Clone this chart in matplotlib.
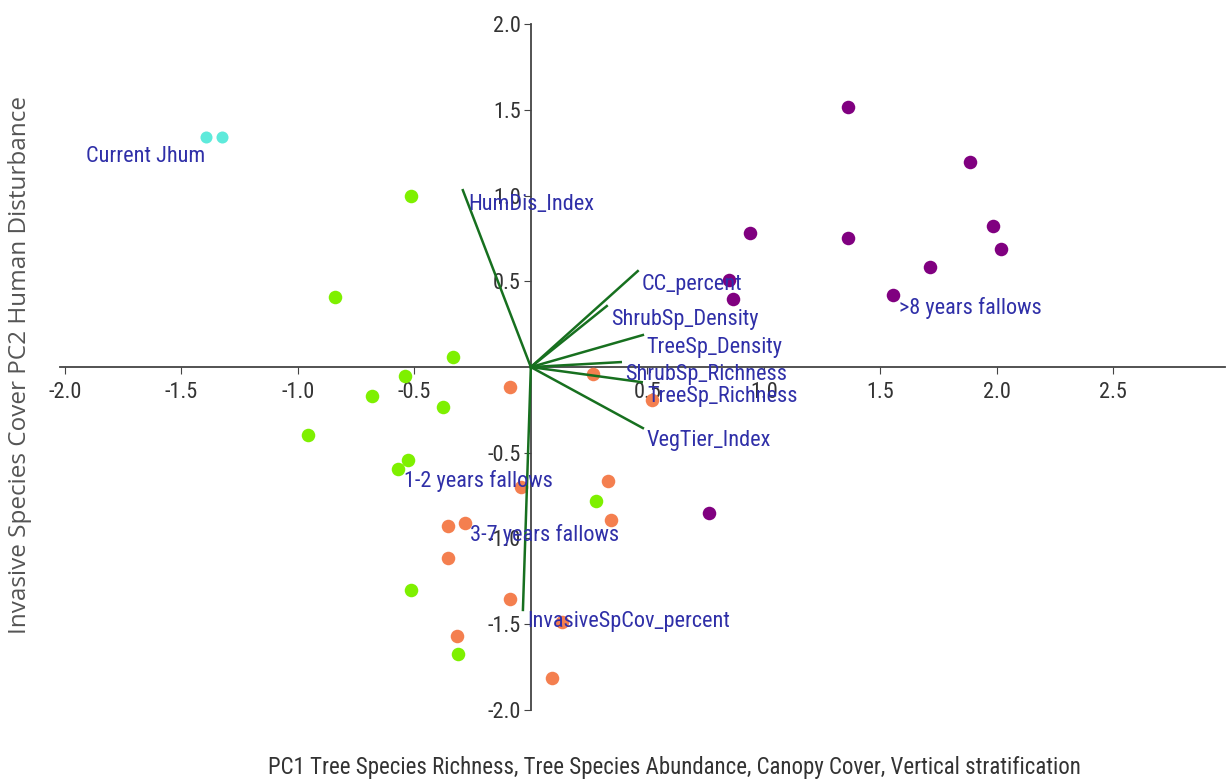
import matplotlib.pyplot as plt
from matplotlib import font_manager

# scores
jhum_x = [-1.395, -1.326]
jhum_y = [1.341, 1.341]

f12_x = [-0.515, -0.841, -0.335, -0.541, -0.682, -0.378, -0.957, -0.528, -0.571, 0.279, -0.515, -0.313]
f12_y = [0.997, 0.408, 0.058, -0.052, -0.169, -0.233, -0.397, -0.542, -0.595, -0.781, -1.300, -1.673]

f37_x = [-0.090, 0.266, 0.519, 0.330, -0.043, 0.343, -0.356, -0.283, -0.356, -0.090, -0.318, 0.090, 0.133]
f37_y = [-0.117, -0.041, -0.192, -0.665, -0.700, -0.892, -0.927, -0.910, -1.114, -1.353, -1.569, -1.813, -1.487]

f8_x = [1.361, 1.884, 0.940, 1.361, 1.983, 2.017, 1.712, 0.850, 0.867, 1.554, 0.764]
f8_y = [1.516, 1.195, 0.781, 0.752, 0.822, 0.688, 0.583, 0.507, 0.397, 0.420, -0.851]

# loadings
var_names = ["HumDis_Index", "CC_percent", "ShrubSp_Density", "TreeSp_Density",
             "ShrubSp_Richness", "TreeSp_Richness", "VegTier_Index", "InvasiveSpCov_percent"]
load_x = [-0.292, 0.459, 0.326, 0.481, 0.386, 0.476, 0.481, -0.034]
load_y = [1.032, 0.560, 0.356, 0.187, 0.029, -0.088, -0.356, -1.417]
lab_x = [-0.27, 0.476, 0.343, 0.498, 0.403, 0.502, 0.498, -0.017]
lab_y = [0.947, 0.484, 0.280, 0.117, -0.041, -0.169, -0.431, -1.487]

groups = ["Current Jhum", ">8 years fallows", "1-2 years fallows", "3-7 years fallows"]
grp_x = [-1.91, 1.58, -0.545, -0.262]
grp_y = [1.23, 0.344, -0.665, -0.98]

xticks = [-2.0, -1.5, -1.0, -0.5, 0.5, 1.0, 1.5, 2.0, 2.5]
yticks = [-2.0, -1.5, -1.0, -0.5, 0.5, 1.0, 1.5, 2.0]

names = set(f.name for f in font_manager.fontManager.ttflist)
cands = ["Roboto Condensed", "Open Sans Condensed", "Liberation Sans Narrow", "Roboto"]
narrow = [c for c in cands if c in names][0]
plt.rcParams['font.family'] = [narrow, 'DejaVu Sans']

fig = plt.figure(figsize=(12.27, 7.81), dpi=100)
ax = fig.add_axes([0.0473, 0.0845, 0.951, 0.891])

ax.scatter(jhum_x, jhum_y, s=75, color="#5eeadb", zorder=3, linewidths=0)
ax.scatter(f12_x, f12_y, s=95, color="#7ef000", zorder=3, linewidths=0)
ax.scatter(f37_x, f37_y, s=95, color="#f47f4f", zorder=3, linewidths=0)
ax.scatter(f8_x, f8_y, s=95, color="#800080", zorder=3, linewidths=0)

for i in range(len(var_names)):
    ax.plot([0, load_x[i]], [0, load_y[i]], color="#17701f", lw=1.8, zorder=4)
    ax.text(lab_x[i], lab_y[i], var_names[i], color="#2f2fa8", fontsize=16,
            ha="left", va="center", zorder=5)

for i in range(len(groups)):
    ax.text(grp_x[i], grp_y[i], groups[i], color="#2f2fa8", fontsize=16,
            ha="left", va="center", zorder=5)

ax.set_xlim(-2.03, 2.98)
ax.set_ylim(-2.03, 2.03)
ax.spines['left'].set_position(('data', 0))
ax.spines['bottom'].set_position(('data', 0))
ax.spines['top'].set_visible(False)
ax.spines['right'].set_visible(False)
ax.spines['left'].set_bounds(-2.0, 2.0)
ax.spines['bottom'].set_bounds(-2.02, 2.98)
for s in ['left', 'bottom']:
    ax.spines[s].set_color("#444444")
    ax.spines[s].set_linewidth(1.3)

ax.set_xticks(xticks)
ax.set_yticks(yticks)
ax.set_xticklabels([f"{v:.1f}" for v in xticks])
ax.set_yticklabels([f"{v:.1f}" for v in yticks])
ax.tick_params(axis='both', direction='out', length=5, color="#444444",
               labelsize=16, labelcolor="#333333")
ax.tick_params(axis='x', pad=6)
ax.tick_params(axis='y', pad=2)

fig.text(0.016, 0.533, "Invasive Species Cover PC2 Human Disturbance", rotation=90,
         ha="center", va="center", fontsize=17.5, color="#555555", family="Open Sans")
fig.text(0.55, 0.017, "PC1 Tree Species Richness, Tree Species Abundance, Canopy Cover, Vertical stratification",
         ha="center", va="center", fontsize=16.5, color="#333333")

fig.savefig("out.png", dpi=100)
